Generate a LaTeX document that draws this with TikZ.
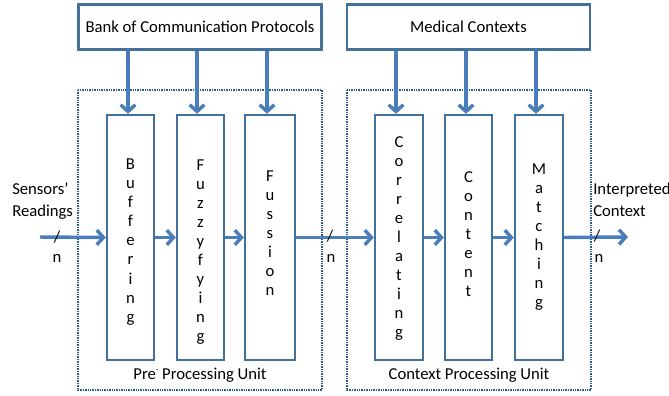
\documentclass[tikz,border=0pt]{standalone}
\usepackage{fontspec}
\setmainfont{Carlito}
\usetikzlibrary{arrows.meta}
\definecolor{boxblue}{HTML}{41719C}
\definecolor{arrblue}{HTML}{4A7EBB}
\definecolor{dotblue}{HTML}{2C5A8C}
\tikzset{
  topbox/.style={draw=boxblue,line width=1.8pt,fill=white,inner sep=0pt},
  stagebox/.style={draw=boxblue,line width=1.8pt,inner sep=0pt},
  unitbox/.style={draw=dotblue,line width=1.6pt,dash pattern=on 1.1pt off 0.7pt},
  flow/.style={draw=arrblue,line width=2.6pt,-{Straight Barb[length=5pt,width=11pt]}},
  vtext/.style={inner sep=0pt,align=center,font=\fontsize{12.5}{14.3}\selectfont},
  lbl/.style={inner sep=0pt,font=\fontsize{12.5}{16.5}\selectfont},
}
\begin{document}
\begin{tikzpicture}[x=0.75pt,y=-0.75pt]
\useasboundingbox (0,0) rectangle (669,396);
% unit boxes
\draw[unitbox] (78,90) rectangle (322,390);
\draw[unitbox] (347,90) rectangle (591,390);
% top boxes
\node[topbox,minimum width=243*0.75pt,minimum height=45*0.75pt,lbl] (bank) at (200,27) {Bank of Communication Protocols};
\node[topbox,minimum width=243*0.75pt,minimum height=45*0.75pt,lbl] (med) at (468.5,27) {Medical Contexts};
% stage boxes
\node[stagebox,minimum width=47*0.75pt,minimum height=245*0.75pt] (buf) at (130.5,237.5) {};
\node[stagebox,minimum width=47*0.75pt,minimum height=245*0.75pt] (fuz) at (200.5,237.5) {};
\node[stagebox,minimum width=50*0.75pt,minimum height=245*0.75pt] (fus) at (270,237.5) {};
\node[stagebox,minimum width=48*0.75pt,minimum height=245*0.75pt] (cor) at (399,237.5) {};
\node[stagebox,minimum width=47*0.75pt,minimum height=245*0.75pt] (con) at (468.5,237.5) {};
\node[stagebox,minimum width=48*0.75pt,minimum height=245*0.75pt] (mat) at (539,237.5) {};
% vertical words
\node[vtext] (tbuf) at (130.5,242) {B\\u\\f\\f\\e\\r\\i\\n\\g};
\node[vtext] (tfuz) at (200.5,252) {F\\u\\z\\z\\y\\f\\y\\i\\n\\g};
\node[vtext] (tfus) at (270,233) {F\\u\\s\\s\\i\\o\\n};
\node[vtext] (tcor) at (399,238.5) {C\\o\\r\\r\\e\\l\\a\\t\\i\\n\\g};
\node[vtext] (tcon) at (468.5,234) {C\\o\\n\\t\\e\\n\\t};
\node[vtext] (tmat) at (539,237) {M\\a\\t\\c\\h\\i\\n\\g};
% unit labels
\node[lbl] (pre) at (200,375) {Pre\raisebox{0.9ex}{\fontsize{6}{6}\selectfont -} Processing Unit};
\node[lbl] (ctx) at (469,375) {Context Processing Unit};
% down arrows
\draw[flow] (bank.south -| 128,0) -- (buf.north -| 128,0);
\draw[flow] (bank.south -| 197,0) -- (fuz.north -| 197,0);
\draw[flow] (bank.south -| 267,0) -- (fus.north -| 267,0);
\draw[flow] (med.south -| 396,0) -- (cor.north -| 396,0);
\draw[flow] (med.south -| 466,0) -- (con.north -| 466,0);
\draw[flow] (med.south -| 536,0) -- (mat.north -| 536,0);
% horizontal flow
\coordinate (in) at (40,237);
\coordinate (out) at (628,237);
\draw[flow] (in) -- (buf.west);
\draw[flow] (buf.east) -- (fuz.west);
\draw[flow] (fuz.east) -- (fus.west);
\draw[flow] (fus.east) -- (cor.west);
\draw[flow] (cor.east) -- (con.west);
\draw[flow] (con.east) -- (mat.west);
\draw[flow] (mat.east) -- (out);
% side labels
\node[lbl,anchor=west,align=left] (sens) at (12,201) {Sensors’\\Readings};
\node[lbl,anchor=west,align=left] (interp) at (593,200) {Interpreted\\Context};
\node[lbl] (s1) at (57,237) {/};
\node[lbl] (n1) at (57,258) {n};
\node[lbl] (s2) at (330,236) {/};
\node[lbl] (n2) at (331,258) {n};
\node[lbl] (s3) at (597,236) {/};
\node[lbl] (n3) at (599,258) {n};
\end{tikzpicture}
\end{document}
